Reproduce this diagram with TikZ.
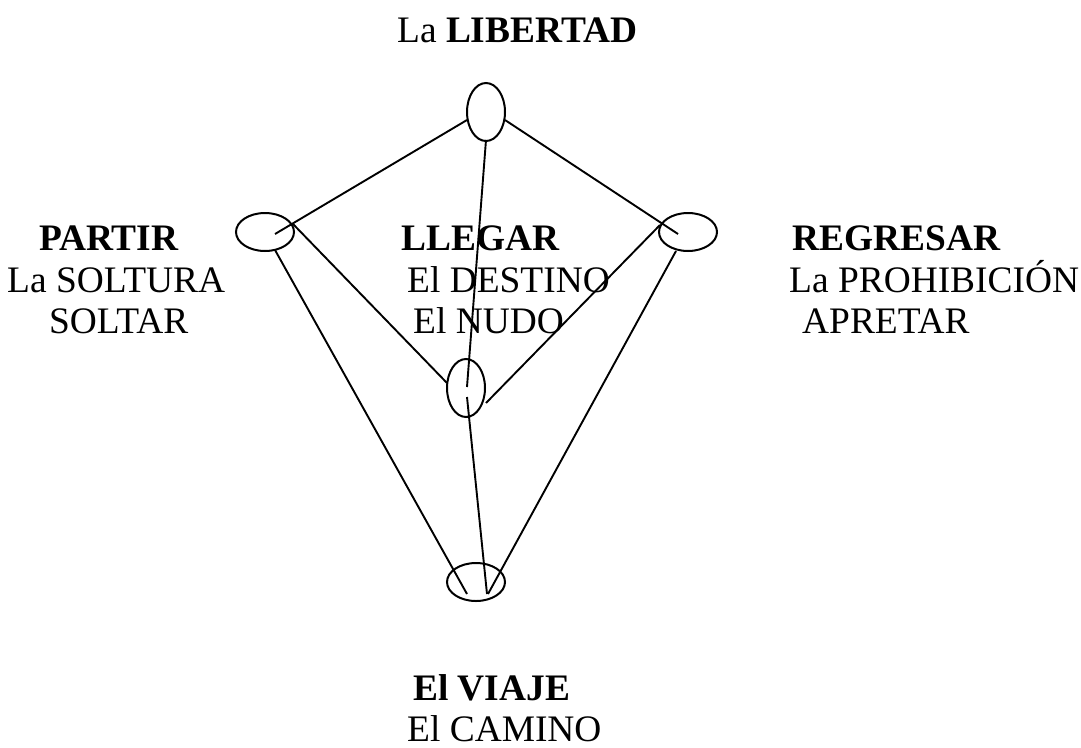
\documentclass[tikz,border=0pt]{standalone}
\usepackage{fontspec}
\setmainfont{Liberation Serif}
\usetikzlibrary{shapes.geometric,calc}
\tikzset{
  oval/.style={ellipse, draw, line width=2pt, inner sep=0pt},
  vert/.style={oval, minimum width=38pt, minimum height=58pt},
  horz/.style={oval, minimum width=58pt, minimum height=38pt},
  conn/.style={line width=1.9pt},
  lbl/.style={anchor=base west, inner sep=0pt, font=\fontsize{37.4}{44}\selectfont}
}
\begin{document}
\begin{tikzpicture}[x=1pt,y=-1pt]
\useasboundingbox (0,0) rectangle (1081,747);
% ellipses
\node[vert] (top) at (486,112) {};
\node[horz] (left) at (265,232) {};
\node[horz] (right) at (688,232) {};
\node[vert] (mid) at (466,388) {};
\node[horz] (bot) at (476,582) {};
% connectors
\draw[conn] ($(top)+(-19,8)$) -- ($(left)+(10,2)$);
\draw[conn] ($(top)+(19,8)$) -- ($(right)+(-10,2)$);
\draw[conn] ($(top)+(0,28)$) -- ($(mid)+(1,-1)$);
\draw[conn] ($(mid)+(1,9)$) -- ($(bot)+(11,12)$);
\draw[conn] ($(left)+(28,-8)$) -- ($(mid)+(-19,-5)$);
\draw[conn] ($(left)+(10,18)$) -- ($(bot)+(-9,12)$);
\draw[conn] ($(right)+(-28,-7)$) -- ($(mid)+(20,15)$);
\draw[conn] ($(right)+(-12,19)$) -- ($(bot)+(12,12)$);
% labels
\node[lbl] (t1) at (397,42) {La \textbf{LIBERTAD}};
\node[lbl] (p1) at (39,250) {\textbf{PARTIR}};
\node[lbl] (p2) at (7,292) {La SOLTURA};
\node[lbl] (p3) at (49,333) {SOLTAR};
\node[lbl] (l1) at (401,250) {\textbf{LLEGAR}};
\node[lbl] (l2) at (407,292) {El DESTINO};
\node[lbl] (l3) at (413,333) {El NUDO};
\node[lbl] (r1) at (792,250) {\textbf{REGRESAR}};
\node[lbl] (r2) at (789,292) {La PROHIBICIÓN};
\node[lbl] (r3) at (802,333) {APRETAR};
\node[lbl] (b1) at (413,700) {\textbf{El VIAJE}};
\node[lbl] (b2) at (407,741) {El CAMINO};
\end{tikzpicture}
\end{document}
